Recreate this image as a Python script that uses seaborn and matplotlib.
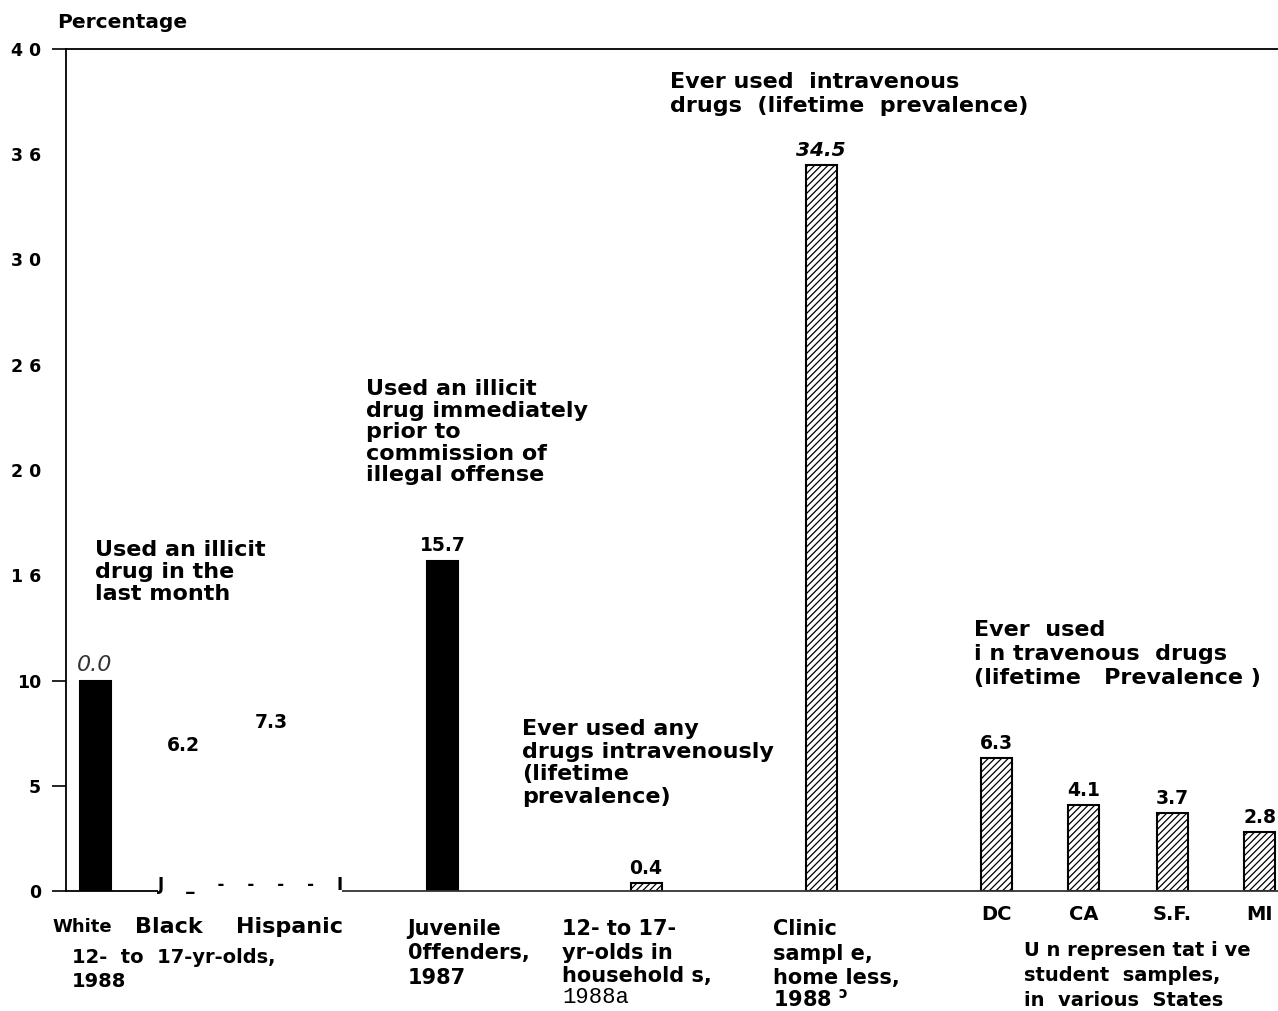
import matplotlib
matplotlib.use('Agg')
import matplotlib.pyplot as plt
import seaborn as sns
import pandas as pd

# Data
groups = ['White', 'Black', 'Hispanic', 'Juvenile', 'Household',
          'Clinic', 'DC', 'CA', 'S.F.', 'MI']
values = [10.0, 6.2, 7.3, 15.7, 0.4, 34.5, 6.3, 4.1, 3.7, 2.8]
value_text = ['0.0', '6.2', '7.3', '15.7', '0.4', '34.5', '6.3', '4.1', '3.7', '2.8']
fills = ['solid', 'solid', 'solid', 'solid', 'hatched',
         'hatched', 'hatched', 'hatched', 'hatched', 'hatched']
shown = [True, False, False, True, True, True, True, True, True, True]
state_labels = ['DC', 'CA', 'S.F.', 'MI']
y_ticks = [0, 5, 10, 15, 20, 25, 30, 35, 40]
y_tick_labels = ['0', '5', '10', '1 6', '2 0', '2 6', '3 0', '3 6', '4 0']

# layout: bar slots along the x axis
x_pos = [0, 1, 2, 3.95, 6.26, 8.25, 10.24, 11.23, 12.24, 13.23]

sns.set_style('white')
plt.rcParams['font.family'] = ['DejaVu Sans']
plt.rcParams['mathtext.default'] = 'bf'
plt.rcParams['text.color'] = 'black'
plt.rcParams['xtick.color'] = 'black'
plt.rcParams['ytick.color'] = 'black'
plt.rcParams['hatch.linewidth'] = 0.9
plt.rcParams['hatch.color'] = 'black'

df = pd.DataFrame({'group': groups, 'pos': x_pos, 'value': values, 'fill': fills})

fig = plt.figure(figsize=(12.78, 10.11), dpi=100)
ax = fig.add_axes([66 / 1278, 1 - 891 / 1011, 1 - 66 / 1278, (891 - 49) / 1011])

sns.barplot(data=df, x='pos', y='value', hue='fill',
            palette={'solid': 'black', 'hatched': 'white'},
            native_scale=True, dodge=False, width=0.356, orient='x',
            edgecolor='black', linewidth=1.5, errorbar=None,
            legend=False, ax=ax)

# hatch the white bars, hide bars lost in the scan
for p in ax.patches:
    cx = p.get_x() + p.get_width() / 2
    i = min(range(len(x_pos)), key=lambda k: abs(x_pos[k] - cx))
    if not shown[i]:
        p.set_visible(False)
    elif fills[i] == 'hatched':
        p.set_hatch('/////')

ax.set_xlim(-0.33, 13.44)
ax.set_ylim(0, 40)

for s in ['right', 'bottom']:
    ax.spines[s].set_visible(False)
for s in ['left', 'top']:
    ax.spines[s].set_color('black')
    ax.spines[s].set_linewidth(1.3)

# broken baseline as in the scan
ax.hlines(0, -0.33, 0.72, color='black', lw=1.3, clip_on=False)
ax.hlines(0, 2.81, 13.44, color='#333333', lw=1.3, clip_on=False)
ax.text(0.72, 0.05, 'J    _    -    -    -    -    I', fontsize=12, fontweight='bold',
        ha='left', va='baseline')

ax.set_yticks(y_ticks)
ax.set_yticklabels(y_tick_labels, fontsize=12.5, fontweight='bold')
ax.tick_params(axis='y', left=True, length=10, width=1.2, pad=8, color='black')
for t, v in zip(ax.yaxis.get_major_ticks(), y_ticks):
    if v not in (0, 5, 10, 40):
        t.tick1line.set_visible(False)

ax.set_xticks(x_pos[6:])
ax.set_xticklabels(state_labels, fontsize=14, fontweight='bold')
ax.tick_params(axis='x', bottom=False, length=0, pad=10)
ax.set_xlabel('')
ax.set_ylabel('')

fig.text(57 / 1278, 1 - 23 / 1011, 'Percentage', fontsize=14.5, fontweight='bold',
         ha='left', va='center')

# value labels
for i in range(len(values)):
    style = dict(fontsize=13.5, fontweight='bold')
    if i == 0:
        style = dict(fontsize=16, fontstyle='italic', fontweight='light', color='#333333')
    elif i == 5:
        style = dict(fontsize=14.5, fontweight='bold', fontstyle='italic')
    ax.annotate(value_text[i], (x_pos[i], values[i]), xytext=(0, 6.5),
                textcoords='offset points', ha='center', va='baseline', **style)

# annotations inside the plot
ann = dict(fontsize=16, fontweight='bold', ha='left', va='top')
ax.text(0.0, 16.67, 'Used an illicit\ndrug in the\nlast month', linespacing=1.12, **ann)
ax.text(3.08, 24.32, 'Used an illicit\ndrug immediately\nprior to\ncommission of\nillegal offense',
        linespacing=1.1, **ann)
ax.text(6.53, 38.91, 'Ever used  intravenous\ndrugs  (lifetime  prevalence)',
        linespacing=1.28, **ann)
ax.text(4.85, 8.17, 'Ever used any\ndrugs intravenously\n(lifetime\nprevalence)',
        linespacing=1.17, **ann)
ax.text(9.99, 12.87, 'Ever  used\ni n travenous  drugs\n(lifetime   Prevalence )',
        linespacing=1.25, **ann)

# group labels under the axis
lab = dict(fontweight='bold', ha='left', va='top', clip_on=False)
ax.text(-0.48, -1.71, 'White', fontsize=13, va='center', fontweight='bold', ha='left')
ax.text(0.45, -1.71, 'Black', fontsize=16, va='center', fontweight='bold', ha='left')
ax.text(1.60, -1.71, 'Hispanic', fontsize=16, va='center', fontweight='bold', ha='left')
ax.text(-0.26, -2.71, '12-  to  17-yr-olds,\n1988', fontsize=14, linespacing=1.3, **lab)
ax.text(3.55, -1.33, 'Juvenile\n0ffenders,\n1987', fontsize=15, linespacing=1.27, **lab)
ax.text(5.31, -1.33, '12- to 17-\nyr-olds in\nhousehold s,', fontsize=15, linespacing=1.22, **lab)
ax.text(5.31, -5.08, '1988a', fontsize=16, family='Liberation Mono', ha='left',
        va='center', clip_on=False)
ax.text(7.70, -1.33, 'Clinic\nsampl e,\nhome less,', fontsize=15, linespacing=1.29, **lab)
ax.text(7.70, -5.13, '1988 $^{\u0254}$', fontsize=15, fontweight='bold', ha='left',
        va='center', clip_on=False)
ax.text(10.55, -2.38, 'U n represen tat i ve\nstudent  samples,\nin  various  States',
        fontsize=14, linespacing=1.4, **lab)

fig.savefig('out.png', dpi=100)
